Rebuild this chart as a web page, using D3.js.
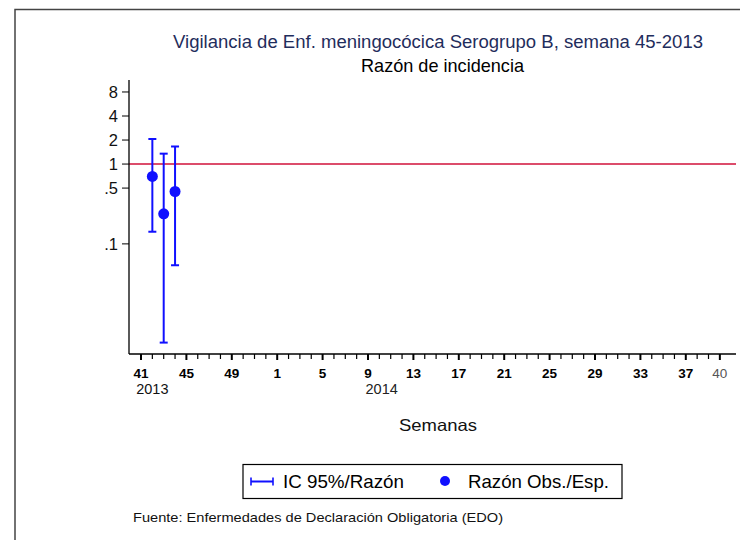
<!DOCTYPE html>
<html><head><meta charset="utf-8">
<script src="https://cdn.jsdelivr.net/npm/d3@7"></script>
<style>body{margin:0;background:#fff;} text{font-family:"Liberation Sans",Arial,sans-serif;}</style>
</head><body>
<svg id="c" width="740" height="540"></svg>
<script>
// Data
const weeks2013 = [41,42,43,44,45,46,47,48,49,50,51,52];
const weeks2014 = d3.range(1, 41);
const weekLabels = weeks2013.map(w => "2013-" + w).concat(weeks2014.map(w => "2014-" + w));
const tickWeeks = ["2013-41","2013-45","2013-49","2014-1","2014-5","2014-9","2014-13","2014-17","2014-21","2014-25","2014-29","2014-33","2014-37","2014-40"];
const pointWeeks = ["2013-42","2013-43","2013-44"];
const ratio = [0.70, 0.238, 0.453];
const ciLow = [0.142, 0.0058, 0.054];
const ciHigh = [2.06, 1.35, 1.66];
const yTicks = [0.1, 0.5, 1, 2, 4, 8];
const yTickLabels = [".1", ".5", "1", "2", "4", "8"];

const svg = d3.select("#c");
// frame
svg.append("path").attr("d","M15,540 V9.5 H740").attr("fill","none").attr("stroke","#444").attr("stroke-width",1.5);

const x = d3.scalePoint().domain(weekLabels).range([141, 141 + 51*11.35]);
const y = d3.scaleLog().domain([1/256, 11.3]).range([356.3, 80]);
const x0 = 129, x1 = 736, yBase = 354;

// reference line at 1
svg.append("line").attr("x1",x0).attr("x2",x1).attr("y1",y(1)).attr("y2",y(1)).attr("stroke","#d0103a").attr("stroke-width",1.6);

// y axis
svg.append("line").attr("x1",x0).attr("x2",x0).attr("y1",80).attr("y2",yBase).attr("stroke","#000").attr("stroke-width",1.3);
const yg = svg.append("g");
yTicks.forEach((t,i)=>{
  yg.append("line").attr("x1",x0-7).attr("x2",x0).attr("y1",y(t)).attr("y2",y(t)).attr("stroke","#000");
  yg.append("text").attr("x",x0-11).attr("y",y(t)).attr("dy","0.36em").attr("text-anchor","end")
    .attr("font-size",16.5).attr("fill","#111").text(yTickLabels[i]);
});

// x axis
svg.append("line").attr("x1",x0).attr("x2",x1).attr("y1",yBase).attr("y2",yBase).attr("stroke","#000").attr("stroke-width",1.3);
const xg = svg.append("g");
weekLabels.forEach(w=>{
  const major = tickWeeks.includes(w);
  xg.append("line").attr("x1",x(w)).attr("x2",x(w)).attr("y1",yBase).attr("y2",yBase+(major?6:5))
    .attr("stroke","#000").attr("stroke-width",major?2:1.2);
});
tickWeeks.forEach(w=>{
  const last = w === "2014-40";
  xg.append("text").attr("x",x(w)).attr("y",yBase+24).attr("text-anchor","middle")
    .attr("font-size",13.5).attr("font-weight",last?"normal":"bold").attr("fill",last?"#555":"#000")
    .text(w.split("-")[1]);
});
xg.append("text").attr("x",x("2013-42")).attr("y",yBase+40).attr("text-anchor","middle").attr("font-size",14.5).attr("fill","#111").text("2013");
xg.append("text").attr("x",(x("2014-9")+x("2014-10"))/2+8).attr("y",yBase+40).attr("text-anchor","middle").attr("font-size",14.5).attr("fill","#222").text("2014");

// error bars
const blue = "#1010ff";
pointWeeks.forEach((w,i)=>{
  const cx = x(w);
  svg.append("line").attr("x1",cx).attr("x2",cx).attr("y1",y(ciLow[i])).attr("y2",y(ciHigh[i])).attr("stroke",blue).attr("stroke-width",2);
  [ciLow[i],ciHigh[i]].forEach(v=>{
    svg.append("line").attr("x1",cx-4).attr("x2",cx+4).attr("y1",y(v)).attr("y2",y(v)).attr("stroke",blue).attr("stroke-width",2);
  });
});
svg.selectAll("circle.pt").data(ratio).enter().append("circle").attr("class","pt")
  .attr("cx",(d,i)=>x(pointWeeks[i])).attr("cy",d=>y(d)).attr("r",5.5).attr("fill",blue);

// titles
svg.append("text").attr("x",173).attr("y",48).attr("font-size",17.5).attr("fill","#1f2d5c")
  .attr("textLength",530).attr("lengthAdjust","spacingAndGlyphs")
  .text("Vigilancia de Enf. meningocócica Serogrupo B, semana 45-2013");
svg.append("text").attr("x",361).attr("y",72).attr("font-size",18.5).attr("fill","#000")
  .attr("textLength",163).attr("lengthAdjust","spacingAndGlyphs")
  .text("Razón de incidencia");
svg.append("text").attr("x",399).attr("y",431).attr("font-size",16.5).attr("fill","#111")
  .attr("textLength",78).attr("lengthAdjust","spacingAndGlyphs").text("Semanas");

// legend
svg.append("rect").attr("x",243).attr("y",464.5).attr("width",379).attr("height",34).attr("fill","none").attr("stroke","#000").attr("stroke-width",1.2);
svg.append("line").attr("x1",251).attr("x2",273).attr("y1",481.5).attr("y2",481.5).attr("stroke",blue).attr("stroke-width",2);
[251,273].forEach(xx=>svg.append("line").attr("x1",xx).attr("x2",xx).attr("y1",477.5).attr("y2",485.5).attr("stroke",blue).attr("stroke-width",1.6));
svg.append("text").attr("x",283).attr("y",481.5).attr("dy","0.36em").attr("font-size",18.5).attr("fill","#000")
  .attr("textLength",121).attr("lengthAdjust","spacingAndGlyphs").text("IC 95%/Razón");
svg.append("circle").attr("cx",445).attr("cy",481).attr("r",5).attr("fill",blue);
svg.append("text").attr("x",468).attr("y",481.5).attr("dy","0.36em").attr("font-size",18.5).attr("fill","#000")
  .attr("textLength",141).attr("lengthAdjust","spacingAndGlyphs").text("Razón Obs./Esp.");

svg.append("text").attr("x",133).attr("y",522).attr("font-size",13.5).attr("fill","#111")
  .attr("textLength",370).attr("lengthAdjust","spacingAndGlyphs")
  .text("Fuente: Enfermedades de Declaración Obligatoria (EDO)");
</script>
</body></html>
